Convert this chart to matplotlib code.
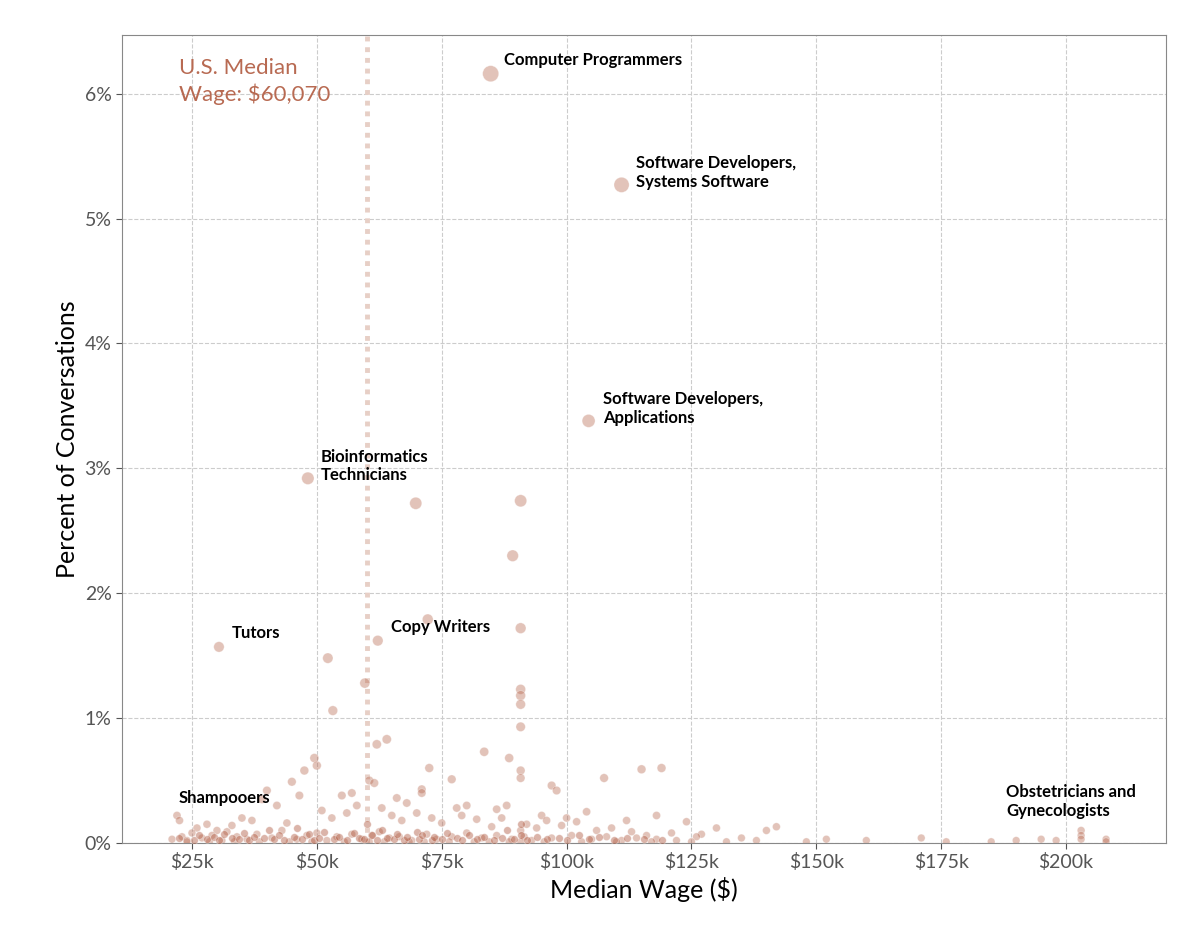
import matplotlib.pyplot as plt
from matplotlib.ticker import FuncFormatter

plt.rcParams['font.family'] = ['Lato', 'DejaVu Sans']

# median wage in $k, share of conversations in %
wage = [84.8, 111.0, 104.4, 48.2, 69.8, 90.8, 89.2, 30.4, 72.2, 62.2, 90.8, 52.2, 59.6, 53.2,
        90.8, 90.8, 90.8, 90.8, 62.0, 64.0, 49.5, 50.0, 83.5, 88.5, 72.5, 90.8, 90.8, 107.5,
        115.0, 119.0, 77.0, 97.0, 98.0, 60.5, 61.5, 71.0, 71.0, 45.0, 46.5, 47.5, 40.0, 39.0,
        55.0, 57.0, 66.0, 68.0, 78.0, 80.0, 86.0, 88.0, 95.0, 100.0, 104.0, 112.0, 118.0, 124.0,
        130.0, 140.0, 142.0, 22.0, 22.5, 26.0, 28.0, 30.0, 33.0, 35.0, 37.0, 42.0, 44.0, 51.0,
        53.0, 56.0, 58.0, 63.0, 65.0, 67.0, 70.0, 73.0, 75.0, 79.0, 82.0, 85.0, 87.0, 92.0,
        94.0, 96.0, 99.0, 102.0, 106.0, 109.0, 113.0, 116.0, 121.0, 127.0, 135.0, 152.0, 171.0,
        190.0, 195.0, 203.0, 203.0, 203.0, 208.0, 208.0,
        21.0, 23.0, 24.0, 25.0, 27.0, 29.0, 31.0, 32.0, 34.0, 36.0, 38.0, 41.0, 43.0, 46.0,
        48.0, 50.0, 52.0, 54.0, 57.0, 59.0, 61.0, 62.5, 64.5, 66.5, 69.0, 72.0, 74.0, 77.0,
        80.0, 83.0, 86.0, 89.0, 90.8, 91.5, 93.0, 97.0, 101.0, 105.0, 108.0, 111.0, 114.0,
        118.0, 122.0, 126.0, 132.0, 138.0, 148.0, 160.0, 176.0, 185.0, 198.0,
        24.0, 28.5, 33.5, 38.5, 44.5, 49.0, 55.5, 60.5, 63.5, 68.5, 71.5, 76.5, 81.5, 84.5,
        88.5, 90.8, 95.5, 103.0, 110.0, 117.0, 125.0]
pct = [6.16, 5.27, 3.38, 2.92, 2.72, 2.74, 2.30, 1.57, 1.79, 1.62, 1.72, 1.48, 1.28, 1.06,
       1.23, 1.18, 1.11, 0.93, 0.79, 0.83, 0.68, 0.62, 0.73, 0.68, 0.60, 0.58, 0.52, 0.52,
       0.59, 0.60, 0.51, 0.46, 0.42, 0.50, 0.48, 0.43, 0.40, 0.49, 0.38, 0.58, 0.42, 0.35,
       0.38, 0.40, 0.36, 0.32, 0.28, 0.30, 0.27, 0.30, 0.22, 0.20, 0.25, 0.18, 0.22, 0.17,
       0.12, 0.10, 0.13, 0.22, 0.18, 0.12, 0.15, 0.10, 0.14, 0.20, 0.18, 0.30, 0.16, 0.26,
       0.20, 0.24, 0.30, 0.28, 0.22, 0.18, 0.24, 0.20, 0.16, 0.22, 0.19, 0.13, 0.20, 0.15,
       0.12, 0.18, 0.14, 0.17, 0.10, 0.12, 0.09, 0.06, 0.08, 0.07, 0.04, 0.03, 0.04,
       0.02, 0.03, 0.10, 0.06, 0.03, 0.03, 0.01,
       0.03, 0.05, 0.02, 0.08, 0.04, 0.06, 0.02, 0.09, 0.05, 0.03, 0.07, 0.04, 0.10, 0.03,
       0.06, 0.08, 0.02, 0.05, 0.07, 0.03, 0.06, 0.09, 0.04, 0.05, 0.02, 0.07, 0.03, 0.05,
       0.08, 0.04, 0.06, 0.03, 0.10, 0.05, 0.02, 0.04, 0.06, 0.03, 0.05, 0.02, 0.04,
       0.03, 0.02, 0.05, 0.01, 0.02, 0.01, 0.02, 0.01, 0.01, 0.02,
       0.01, 0.01, 0.01, 0.01, 0.01, 0.01, 0.01, 0.01, 0.01, 0.01, 0.01, 0.01, 0.01, 0.01,
       0.01, 0.01, 0.01, 0.01, 0.01, 0.01, 0.01]

# the dense band of tiny shares along the bottom
low_wage = [22.5, 25.5, 26.5, 28.0, 29.5, 30.5, 31.5, 33.0, 34.5, 35.5, 36.5, 37.5, 39.5, 40.5,
            41.5, 42.5, 43.5, 45.5, 46.0, 47.0, 48.5, 49.5, 50.5, 51.5, 53.5, 54.5, 56.0, 57.5,
            58.5, 59.5, 60.0, 61.0, 62.0, 63.0, 64.0, 65.5, 66.0, 67.5, 68.0, 70.0, 70.5, 71.0,
            73.0, 73.5, 75.0, 76.0, 78.0, 79.0, 80.5, 82.0, 83.5, 85.5, 87.0, 88.0, 89.5, 90.8,
            90.8, 92.0, 94.0, 96.0, 98.5, 100.0, 102.5, 104.5, 106.5, 109.5, 112.0, 115.5, 119.0]
low_pct = [0.04, 0.02, 0.06, 0.03, 0.05, 0.02, 0.07, 0.04, 0.03, 0.08, 0.02, 0.05, 0.04, 0.10,
           0.03, 0.06, 0.02, 0.05, 0.12, 0.03, 0.07, 0.02, 0.04, 0.09, 0.03, 0.05, 0.02, 0.08,
           0.04, 0.03, 0.15, 0.06, 0.02, 0.10, 0.04, 0.03, 0.07, 0.02, 0.05, 0.09, 0.03, 0.06,
           0.02, 0.05, 0.03, 0.08, 0.04, 0.02, 0.06, 0.03, 0.05, 0.02, 0.04, 0.10, 0.03, 0.15,
           0.06, 0.02, 0.05, 0.03, 0.04, 0.02, 0.06, 0.03, 0.05, 0.02, 0.04, 0.03, 0.02]

labels = ["Computer Programmers", "Software Developers,\nSystems Software",
          "Software Developers,\nApplications", "Bioinformatics\nTechnicians", "Tutors",
          "Copy Writers", "Shampooers", "Obstetricians and\nGynecologists"]
label_x = [87.5, 113.8, 107.3, 50.8, 32.9, 64.8, 22.4, 188]
label_y = [6.27, 5.37, 3.48, 3.02, 1.68, 1.73, 0.36, 0.33]

median_wage = 60.07

fig = plt.figure(figsize=(12, 9.33), dpi=100)
ax = fig.add_axes([0.1017, 0.0965, 0.87, 0.866])

sizes = [30 + 17 * p for p in pct]
ax.scatter(wage, pct, s=sizes, color="#b86a52", alpha=0.4, edgecolors="white",
           linewidths=0.5, zorder=3)
ax.scatter(low_wage, low_pct, s=30, color="#b05a40", alpha=0.45, edgecolors="white",
           linewidths=0.5, zorder=3)
ax.axvline(median_wage, color="#e7cfc6", linestyle=(0, (1, 1.2)), linewidth=3.5, zorder=2)
ax.text(22.5, 6.1, "U.S. Median\nWage: $60,070", color="#b86a52", fontsize=16,
        va="center", ha="left", linespacing=1.3)

for t, x, y in zip(labels, label_x, label_y):
    ax.text(x, y, t, fontsize=12, fontweight="bold", va="center", ha="left", zorder=4)

ax.set_xlim(11, 220)
ax.set_ylim(0, 6.47)
ax.set_xticks([25, 50, 75, 100, 125, 150, 175, 200])
ax.xaxis.set_major_formatter(FuncFormatter(lambda v, _: f"${v:.0f}k"))
ax.yaxis.set_major_formatter(FuncFormatter(lambda v, _: f"{v:.0f}%"))
ax.tick_params(labelsize=14, colors="#555555", length=4)
ax.grid(True, color="#cccccc", linestyle="--", linewidth=0.8)
ax.set_axisbelow(True)
for s in ax.spines.values():
    s.set_color("#888888")
ax.set_xlabel("Median Wage ($)", fontsize=18)
ax.set_ylabel("Percent of Conversations", fontsize=18)

fig.savefig("out.png", dpi=100)
